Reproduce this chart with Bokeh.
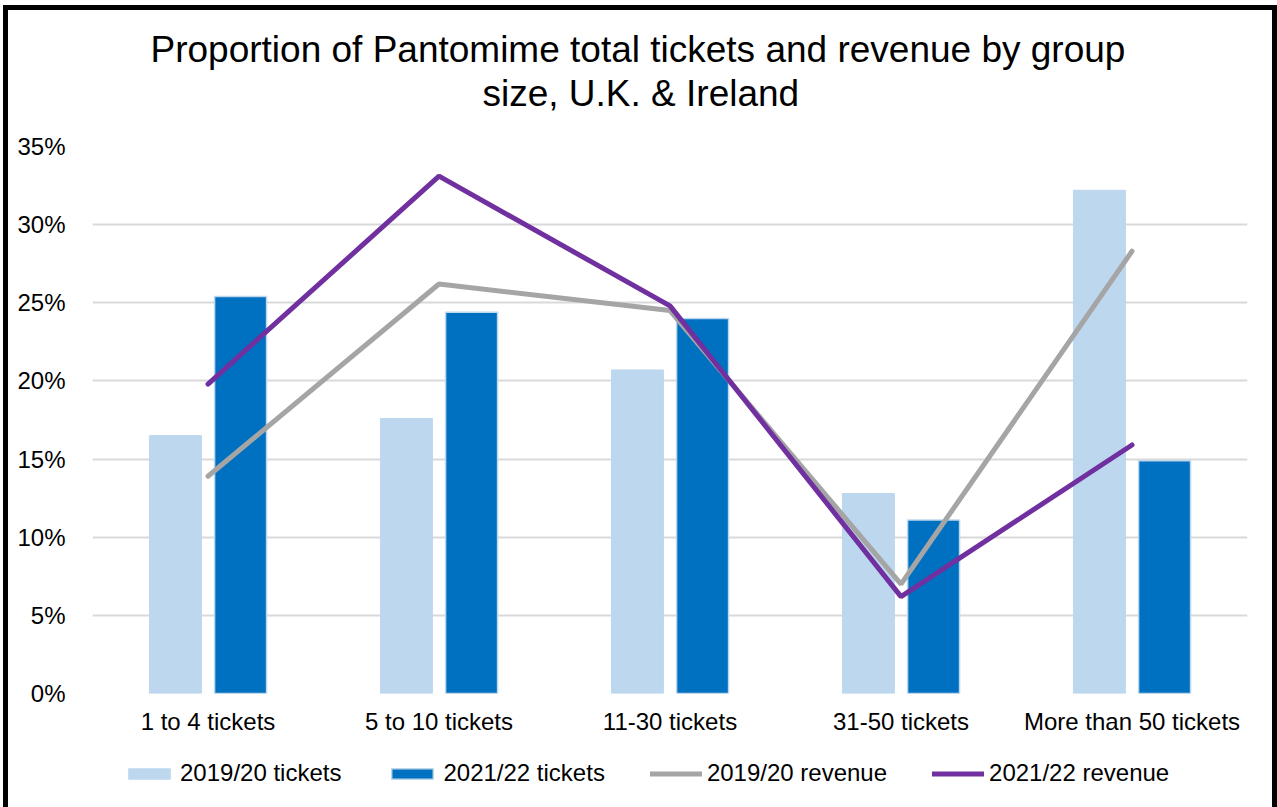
from bokeh.plotting import figure
from bokeh.layouts import column
from bokeh.models import (FactorRange, Range1d, FixedTicker, PrintfTickFormatter,
                          Title, Legend, LegendItem, ColumnDataSource)
from bokeh.transform import dodge
from bokeh.embed import file_html
from bokeh.resources import INLINE

# ---------------- data ----------------
categories = ["1 to 4 tickets", "5 to 10 tickets", "11-30 tickets",
              "31-50 tickets", "More than 50 tickets"]
tickets_2019 = [16.5, 17.6, 20.7, 12.8, 32.2]
tickets_2021 = [25.4, 24.4, 24.0, 11.1, 14.9]
revenue_2019 = [13.9, 26.2, 24.5, 7.0, 28.3]
revenue_2021 = [19.8, 33.1, 24.8, 6.2, 15.9]
y_ticks = [0, 5, 10, 15, 20, 25, 30, 35]
series_names = ["2019/20 tickets", "2021/22 tickets", "2019/20 revenue", "2021/22 revenue"]
series_colors = ["#BDD7EE", "#0070C0", "#A5A5A5", "#7030A0"]
title_lines = ["Proportion of Pantomime total tickets and revenue by group",
               "size, U.K. & Ireland"]

FONT = "Liberation Sans"
W = 1264
NAN = float("nan")

src = ColumnDataSource(data=dict(cat=categories, t19=tickets_2019, t21=tickets_2021,
                                 r19=revenue_2019, r21=revenue_2021))

p = figure(x_range=FactorRange(factors=categories, range_padding=0),
           y_range=Range1d(0, 35),
           width=W, height=740, output_backend="svg", toolbar_location=None,
           min_border_left=84, min_border_right=25, min_border_top=136,
           min_border_bottom=57, background_fill_color="white",
           border_fill_color="white")

# title (two lines) plus a thin spacer panel next to the frame
spacer = Title(text=" ", text_font_size="1px", standoff=30)
p.add_layout(spacer, "above")
t2 = Title(text=title_lines[1], text_font=FONT, text_font_size="37px",
           text_font_style="normal", text_color="black", align="left",
           offset=390, standoff=0)
p.add_layout(t2, "above")
p.title.text = title_lines[0]
p.title.text_font = FONT
p.title.text_font_size = "37px"
p.title.text_font_style = "normal"
p.title.text_color = "black"
p.title.align = "left"
p.title.offset = 58
p.title.standoff = 2

# bars
p.vbar(x=dodge("cat", -0.141, range=p.x_range), top="t19", width=0.225,
       source=src, fill_color=series_colors[0], line_color=series_colors[0], line_width=1)
p.vbar(x=dodge("cat", 0.141, range=p.x_range), top="t21", width=0.225,
       source=src, fill_color=series_colors[1], line_color=series_colors[0], line_width=1.5)

# lines
p.line(x="cat", y="r19", source=src, line_color=series_colors[2], line_width=5,
       line_cap="round")
p.line(x="cat", y="r21", source=src, line_color=series_colors[3], line_width=5,
       line_cap="round")

# axes
for ax in (p.xaxis[0], p.yaxis[0]):
    ax.axis_line_color = None
    ax.major_tick_line_color = None
    ax.minor_tick_line_color = None
    ax.major_label_text_font = FONT
    ax.major_label_text_font_size = "24px"
    ax.major_label_text_color = "black"
p.xaxis.major_label_standoff = 8
p.yaxis.major_label_standoff = 21
p.yaxis.ticker = FixedTicker(ticks=y_ticks)
p.yaxis.formatter = PrintfTickFormatter(format="%d%%")

p.xgrid.grid_line_color = None
p.ygrid.grid_line_color = "#D9D9D9"
p.ygrid.grid_line_width = 2
p.outline_line_color = None

# ---------------- legend strip ----------------
LH = 57
leg = figure(width=W, height=LH, x_range=Range1d(0, W), y_range=Range1d(0, LH),
             output_backend="svg", toolbar_location=None, min_border=0,
             x_axis_type=None, y_axis_type=None, outline_line_color=None,
             background_fill_color="white", border_fill_color="white")
# legend keys only (NaN data: nothing is drawn in the strip itself)
k1 = leg.vbar(x=[NAN], top=[NAN], width=1, fill_color=series_colors[0],
              line_color=series_colors[0], line_width=1)
k2 = leg.vbar(x=[NAN], top=[NAN], width=1, fill_color=series_colors[1],
              line_color=series_colors[0], line_width=1.5)
k3 = leg.line(x=[NAN], y=[NAN], line_color=series_colors[2], line_width=5,
              line_cap="round")
k4 = leg.line(x=[NAN], y=[NAN], line_color=series_colors[3], line_width=5,
              line_cap="round")

legend = Legend(items=[LegendItem(label=series_names[0], renderers=[k1]),
                       LegendItem(label=series_names[1], renderers=[k2]),
                       LegendItem(label=series_names[2], renderers=[k3]),
                       LegendItem(label=series_names[3], renderers=[k4])],
                orientation="horizontal", location=(31, 20), padding=0, margin=0,
                spacing=45, glyph_width=52, glyph_height=13, label_standoff=5,
                label_text_font=FONT, label_text_font_size="24px",
                label_text_color="black", border_line_color=None,
                background_fill_alpha=0)
leg.add_layout(legend)

layout = column(p, leg, spacing=0,
                styles={"box-sizing": "content-box",
                        "border-top": "5px solid black", "border-left": "5px solid black",
                        "border-right": "5px solid black", "border-bottom": "none",
                        "margin-left": "3px", "margin-top": "5px"})

open("out.html", "w").write(file_html(layout, INLINE))
